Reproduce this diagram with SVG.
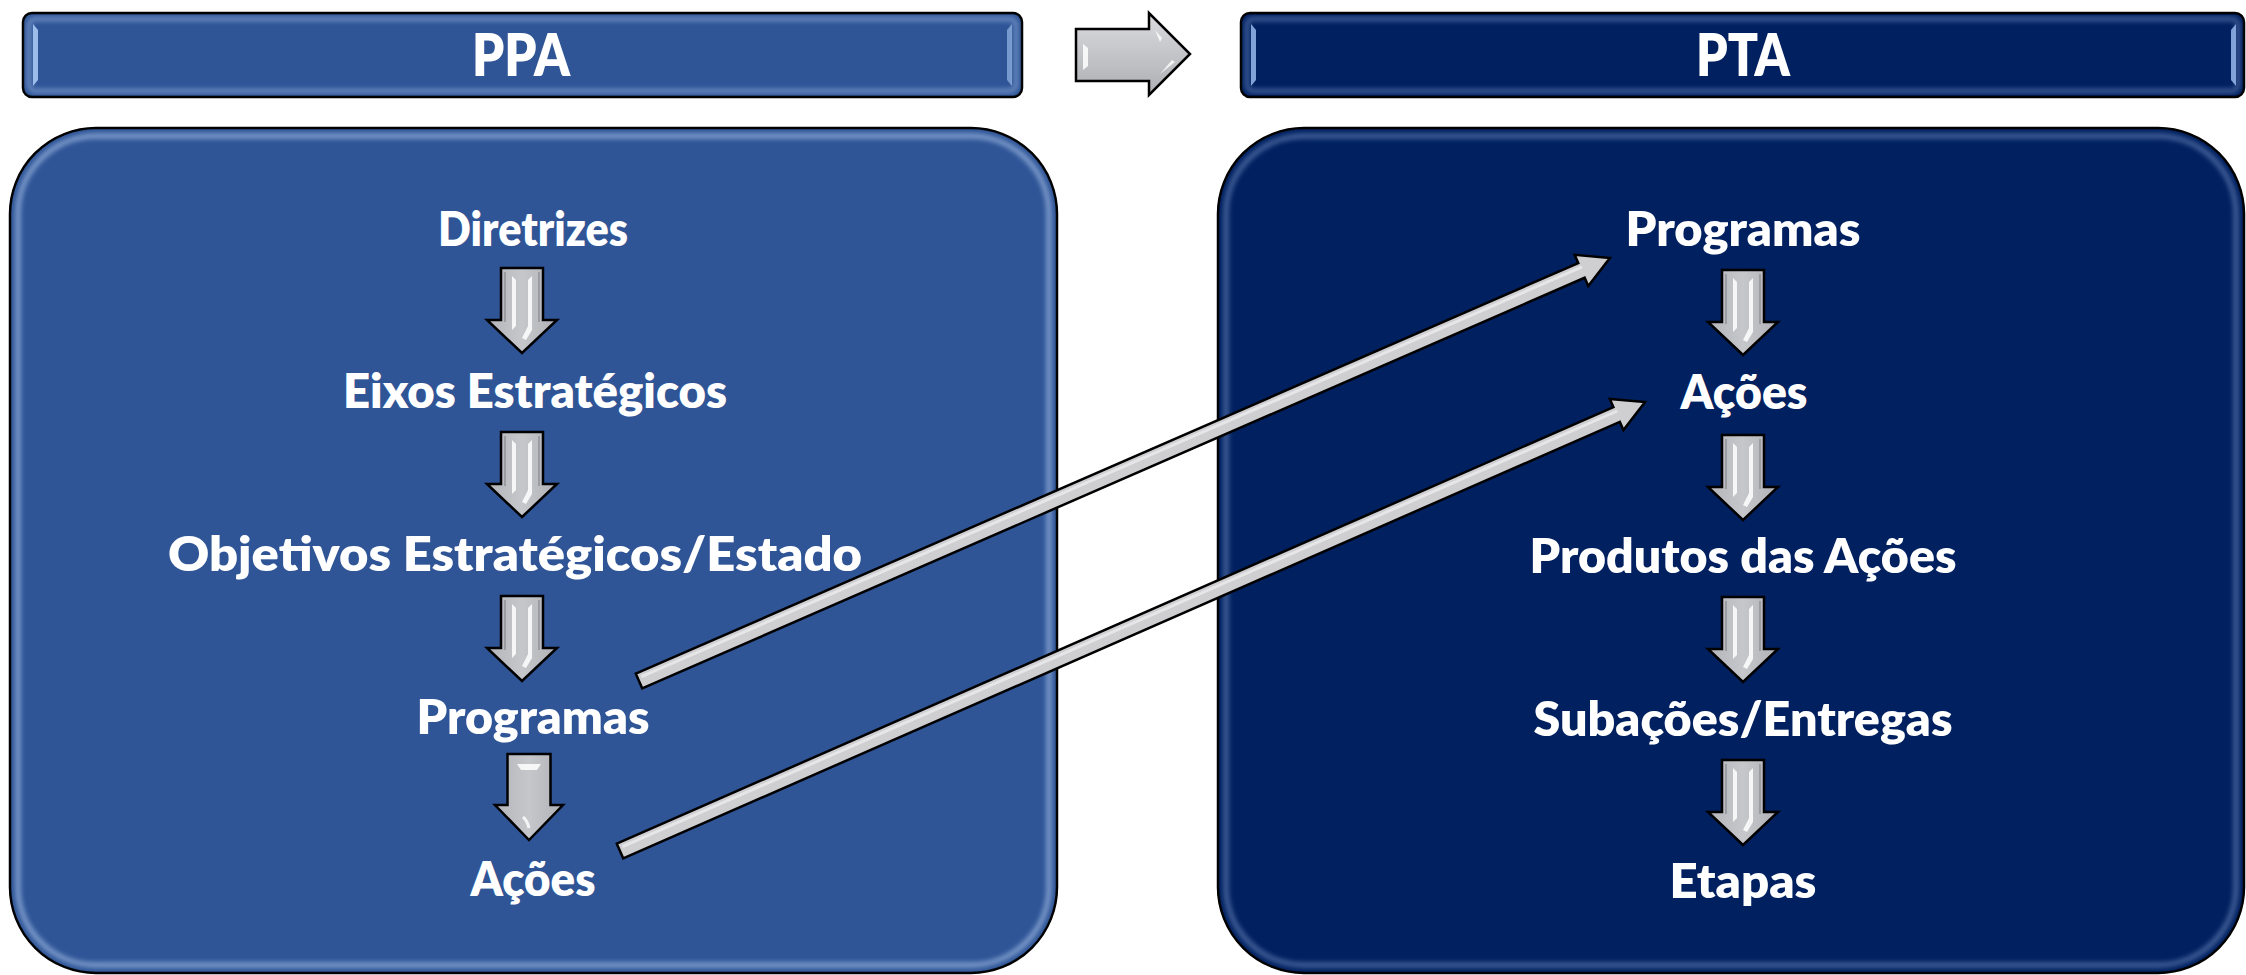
<svg xmlns="http://www.w3.org/2000/svg" xmlns:xlink="http://www.w3.org/1999/xlink" width="2246" height="975" viewBox="0 0 2246 975">
<style>
.lbl{font-family:Lato,"Open Sans","Liberation Sans",sans-serif;font-weight:800;fill:#ffffff;text-anchor:middle}
.item{font-size:48px}
.head{font-size:58px}
.edge{stroke:#000;stroke-width:2.5}
.garrow{fill:url(#gray);stroke:#000;stroke-width:2.5;stroke-linejoin:miter}
.hl{fill:#ffffff;opacity:0.85}
</style>
<defs>
<linearGradient id="gray" x1="0" y1="0" x2="1" y2="0">
<stop offset="0" stop-color="#b4b5ba"/>
<stop offset="0.5" stop-color="#c6c7cb"/>
<stop offset="1" stop-color="#b0b1b6"/>
</linearGradient>
<linearGradient id="grayv" x1="0" y1="0" x2="0" y2="1">
<stop offset="0" stop-color="#dcdcdf"/>
<stop offset="0.5" stop-color="#c4c5c9"/>
<stop offset="1" stop-color="#aeafb4"/>
</linearGradient>
<filter id="soft" x="-5%" y="-5%" width="110%" height="110%">
<feGaussianBlur stdDeviation="2.5"/>
</filter>
<g id="darrow">
<path class="garrow" d="M-21,0 H21 V52 H35 L0,85 L-35,52 H-21 Z"/>
<path class="hl" d="M-10,8 L-6,12 V58 L-10,62 Z"/>
<path class="hl" d="M10,8 L6,12 V58 L0,70 L4,72 L10,62 Z" opacity="0.7"/>
<path d="M-17,4 V54 M17,4 V54" stroke="#9b9ca1" stroke-width="2" fill="none"/>
</g>
<g id="darrow2">
<path class="garrow" d="M-21.5,0 H21.5 V51 H34 L0,86 L-34,51 H-21.5 Z"/>
<path class="hl" d="M-12,10 H12 L8,16 H-8 Z"/>
<path d="M-6,63 Q-2,66 0,74" stroke="#ffffff" stroke-width="3" fill="none" opacity="0.8"/>
</g>
</defs>

<g id="ppa-header">
<rect x="23" y="13" width="999" height="84" rx="9" fill="#2f5597" class="edge"/>
<rect x="29" y="19" width="987" height="72" rx="6" fill="none" stroke="#a9c4ec" stroke-width="4" opacity="0.55" filter="url(#soft)"/>
<path d="M33,24 L38,30 V80 L33,86 Z" fill="#a9c8f2" opacity="0.9"/>
<path d="M1012,24 L1007,30 V80 L1012,86 Z" fill="#a9c8f2" opacity="0.6"/>
<text class="lbl head" x="521" y="76" textLength="98" lengthAdjust="spacingAndGlyphs">PPA</text>
</g>

<g id="transition-arrow">
<path d="M1076,29 H1149 V13 L1190,54 L1149,95 V81 H1076 Z" fill="url(#grayv)" stroke="#000" stroke-width="2.5"/>
<path d="M1083,44 L1088,48 V66 L1083,70 Z" fill="#fff" opacity="0.85"/>
<path d="M1155,30 L1162,38 L1160,42 Z M1160,74 L1175,62 L1172,60 Z" fill="#fff" opacity="0.8"/>
</g>

<g id="pta-header">
<rect x="1241" y="13" width="1003" height="84" rx="9" fill="#002060" class="edge"/>
<rect x="1247" y="19" width="991" height="72" rx="6" fill="none" stroke="#8ea9d8" stroke-width="4" opacity="0.5" filter="url(#soft)"/>
<path d="M1251,24 L1256,30 V80 L1251,86 Z" fill="#8fb0e4" opacity="0.9"/>
<path d="M2236,24 L2231,30 V80 L2236,86 Z" fill="#8fb0e4" opacity="0.9"/>
<text class="lbl head" x="1743" y="76" textLength="94" lengthAdjust="spacingAndGlyphs">PTA</text>
</g>

<g id="ppa-box">
<rect x="10" y="128" width="1047" height="845" rx="86" fill="#2f5597" class="edge"/>
<rect x="18" y="136" width="1031" height="829" rx="78" fill="none" stroke="#bcd4f6" stroke-width="5" opacity="0.6" filter="url(#soft)"/>
</g>

<g id="pta-box">
<rect x="1218" y="128" width="1026" height="845" rx="86" fill="#002060" class="edge"/>
<rect x="1226" y="136" width="1010" height="829" rx="78" fill="none" stroke="#8ea9d8" stroke-width="5" opacity="0.5" filter="url(#soft)"/>
</g>

<g id="ppa-items">
<g id="ppa-diretrizes"><text class="lbl item" x="533" y="246" textLength="190" lengthAdjust="spacingAndGlyphs">Diretrizes</text></g>
<g id="ppa-eixos"><text class="lbl item" x="535" y="408" textLength="384" lengthAdjust="spacingAndGlyphs">Eixos Estratégicos</text></g>
<g id="ppa-objetivos"><text class="lbl item" x="515" y="571" textLength="694" lengthAdjust="spacingAndGlyphs">Objetivos Estratégicos/Estado</text></g>
<g id="ppa-programas"><text class="lbl item" x="533" y="734" textLength="233" lengthAdjust="spacingAndGlyphs">Programas</text></g>
<g id="ppa-acoes"><text class="lbl item" x="533" y="896" textLength="125" lengthAdjust="spacingAndGlyphs">Ações</text></g>
<use xlink:href="#darrow" x="522" y="268"/>
<use xlink:href="#darrow" x="522" y="432"/>
<use xlink:href="#darrow" x="522" y="596"/>
<use xlink:href="#darrow2" x="529" y="754"/>
</g>

<g id="pta-items">
<g id="pta-programas"><text class="lbl item" x="1743" y="246" textLength="235" lengthAdjust="spacingAndGlyphs">Programas</text></g>
<g id="pta-acoes"><text class="lbl item" x="1744" y="409" textLength="127" lengthAdjust="spacingAndGlyphs">Ações</text></g>
<g id="pta-produtos"><text class="lbl item" x="1743" y="573" textLength="427" lengthAdjust="spacingAndGlyphs">Produtos das Ações</text></g>
<g id="pta-subacoes"><text class="lbl item" x="1743" y="736" textLength="419" lengthAdjust="spacingAndGlyphs">Subações/Entregas</text></g>
<g id="pta-etapas"><text class="lbl item" x="1743" y="898" textLength="147" lengthAdjust="spacingAndGlyphs">Etapas</text></g>
<use xlink:href="#darrow" x="1743" y="270"/>
<use xlink:href="#darrow" x="1743" y="435"/>
<use xlink:href="#darrow" x="1743" y="597"/>
<use xlink:href="#darrow" x="1743" y="760"/>
</g>

<g id="connectors">
<g transform="translate(639,681) rotate(-23.54)">
<path d="M0,-8 H1028 V-17 L1059,0 L1028,17 V8 H0 Z" fill="#cfcfd2" stroke="#000" stroke-width="2.5"/>
<path d="M4,-3 H1030" stroke="#e6e6e8" stroke-width="3"/>
</g>
<g transform="translate(620,851) rotate(-23.65)">
<path d="M0,-8 H1088 V-17 L1119,0 L1088,17 V8 H0 Z" fill="#cfcfd2" stroke="#000" stroke-width="2.5"/>
<path d="M4,-3 H1090" stroke="#e6e6e8" stroke-width="3"/>
</g>
</g>
</svg>
